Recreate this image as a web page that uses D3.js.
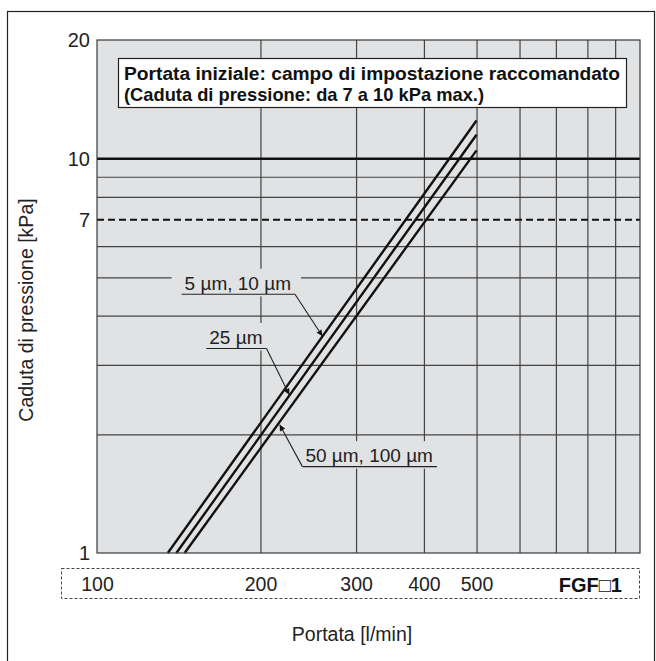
<!DOCTYPE html>
<html>
<head>
<meta charset="utf-8">
<script src="https://cdn.jsdelivr.net/npm/d3@7.9.0/dist/d3.min.js"></script>
<style>
  body { margin: 0; background: #fff; }
  svg { display: block; font-family: "Liberation Sans", Arial, Helvetica, sans-serif; }
</style>
</head>
<body>
<svg id="chart" width="656" height="661"></svg>
<script>
// values
const flowTicks = [100, 200, 300, 400, 500];
const dropTicks = [1, 7, 10, 20];
const flowGrid = [200, 300, 400, 500, 600, 700, 800, 900];
const dropGrid = [2, 3, 4, 5, 6, 8, 9];
const limitLow = 7;    // dashed line
const limitHigh = 10;  // heavy line

const seriesNames = ["5 µm, 10 µm", "25 µm", "50 µm, 100 µm"];
const flow5 = [135, 500];
const drop5 = [1, 12.5];
const flow25 = [140, 500];
const drop25 = [1, 11.5];
const flow50 = [145, 500];
const drop50 = [1, 10.5];

// label anchors and arrow tips, in data units
const labelFlow = [145, 161, 242];
const labelDrop = [4.65, 3.39, 1.70];
const tipFlow = [260, 226, 217];
const tipDrop = [3.55, 2.52, 2.115];
const leaderFrom = ["end", "end", "start"];

const titleLines = [
    "Portata iniziale: campo di impostazione raccomandato",
    "(Caduta di pressione: da 7 a 10 kPa max.)"
];

const svg = d3.select("#chart");
const margin = { top: 40, left: 97 };
const width = 543, height = 513;

const x = d3.scaleLog().domain([100, 1000]).range([margin.left, margin.left + width]);
const y = d3.scaleLog().domain([1, 20]).range([margin.top + height, margin.top]);

// outer frame
svg.append("rect")
    .attr("x", 7.5).attr("y", 11.5)
    .attr("width", 647).attr("height", 670)
    .attr("fill", "none").attr("stroke", "#222").attr("stroke-width", 1.2);

const defs = svg.append("defs");
defs.append("marker")
    .attr("id", "arrow")
    .attr("viewBox", "0 0 10 10")
    .attr("refX", 10).attr("refY", 5)
    .attr("markerUnits", "userSpaceOnUse")
    .attr("markerWidth", 10).attr("markerHeight", 6)
    .attr("orient", "auto")
    .append("path").attr("d", "M0,0L10,5L0,10z").attr("fill", "#111");

// plot background
svg.append("rect")
    .attr("x", x(100)).attr("y", y(20))
    .attr("width", width).attr("height", height)
    .attr("fill", "#e1e2e4");

const gridG = svg.append("g");
const maskG = svg.append("g");
const curveG = svg.append("g");
const labelG = svg.append("g");

// vertical grid
gridG.append("g")
    .attr("transform", `translate(0,${y(1)})`)
    .call(d3.axisBottom(x).tickValues(flowGrid).tickSize(-height).tickFormat(""))
    .call(g => g.select(".domain").remove())
    .selectAll("line").attr("stroke", "#444").attr("stroke-width", 1.2);

// horizontal grid
gridG.append("g")
    .attr("transform", `translate(${x(100)},0)`)
    .call(d3.axisLeft(y).tickValues(dropGrid).tickSize(-width).tickFormat(""))
    .call(g => g.select(".domain").remove())
    .selectAll("line").attr("stroke", "#444").attr("stroke-width", 1.2);

// 7 kPa dashed and 10 kPa heavy
gridG.append("line")
    .attr("x1", x(100)).attr("x2", x(1000))
    .attr("y1", y(limitLow)).attr("y2", y(limitLow))
    .attr("stroke", "#111").attr("stroke-width", 2).attr("stroke-dasharray", "7,4");
gridG.append("line")
    .attr("x1", x(100)).attr("x2", x(1000))
    .attr("y1", y(limitHigh)).attr("y2", y(limitHigh))
    .attr("stroke", "#111").attr("stroke-width", 2.6);

// plot border
svg.append("rect")
    .attr("x", x(100)).attr("y", y(20))
    .attr("width", width).attr("height", height)
    .attr("fill", "none").attr("stroke", "#3a3a3a").attr("stroke-width", 1.2);

// curves
const series = [
    { name: seriesNames[0], flow: flow5, drop: drop5 },
    { name: seriesNames[1], flow: flow25, drop: drop25 },
    { name: seriesNames[2], flow: flow50, drop: drop50 }
];
const line = d3.line().x(d => x(d[0])).y(d => y(d[1]));
curveG.selectAll("path")
    .data(series)
    .join("path")
    .attr("d", d => line(d3.zip(d.flow, d.drop)))
    .attr("fill", "none")
    .attr("stroke", "#111")
    .attr("stroke-width", 2.4);

// series labels with underline and leader arrow
series.forEach((s, i) => {
    const tx = x(labelFlow[i]), ty = y(labelDrop[i]);
    const t = labelG.append("text")
        .attr("x", tx).attr("y", ty)
        .attr("font-size", 19).attr("fill", "#222")
        .text(s.name);
    const bb = t.node().getBBox();
    const uy = ty + 4.5;
    const ux0 = tx - 3, ux1 = tx + bb.width + 4;
    maskG.append("rect")
        .attr("x", ux0 - 10).attr("y", bb.y - 4)
        .attr("width", ux1 - ux0 + 16).attr("height", uy + 2 - (bb.y - 4))
        .attr("fill", "#e1e2e4");
    const sx = leaderFrom[i] === "end" ? ux1 : ux0;
    labelG.append("path")
        .attr("d", `M${ux0},${uy}H${ux1}`)
        .attr("stroke", "#222").attr("stroke-width", 1.1).attr("fill", "none");
    labelG.append("line")
        .attr("x1", sx).attr("y1", uy)
        .attr("x2", x(tipFlow[i])).attr("y2", y(tipDrop[i]))
        .attr("stroke", "#222").attr("stroke-width", 1.1)
        .attr("marker-end", "url(#arrow)");
});

// title box
const boxX = 118, boxY = 58;
svg.append("rect")
    .attr("x", boxX + 0.5).attr("y", boxY + 0.5)
    .attr("width", 508).attr("height", 49)
    .attr("fill", "#fff").attr("stroke", "#222").attr("stroke-width", 1.2);
svg.append("text")
    .attr("x", boxX + 6).attr("y", boxY + 22)
    .attr("font-size", 18).attr("font-weight", "bold").attr("fill", "#111")
    .attr("textLength", 496).attr("lengthAdjust", "spacingAndGlyphs")
    .text(titleLines[0]);
svg.append("text")
    .attr("x", boxX + 6).attr("y", boxY + 43)
    .attr("font-size", 19).attr("font-weight", "bold").attr("fill", "#111")
    .attr("textLength", 360).attr("lengthAdjust", "spacingAndGlyphs")
    .text(titleLines[1]);

// y tick labels
svg.append("g")
    .attr("transform", `translate(${x(100)},0)`)
    .call(d3.axisLeft(y).tickValues(dropTicks).tickSize(0).tickPadding(7).tickFormat(d3.format("d")))
    .call(g => g.select(".domain").remove())
    .selectAll("text")
    .attr("font-size", 20).attr("font-family", "Liberation Sans, Arial, sans-serif").attr("fill", "#222");

// x tick box (dotted) and labels
svg.append("rect")
    .attr("x", 61.5).attr("y", 568.5)
    .attr("width", 578).attr("height", 30)
    .attr("fill", "none").attr("stroke", "#444").attr("stroke-width", 1)
    .attr("stroke-dasharray", "3,2");
svg.append("g")
    .attr("transform", "translate(0,574)")
    .call(d3.axisBottom(x).tickValues(flowTicks).tickSize(0).tickPadding(3).tickFormat(d3.format("d")))
    .call(g => g.select(".domain").remove())
    .selectAll("text")
    .attr("font-size", 19.5).attr("font-family", "Liberation Sans, Arial, sans-serif").attr("fill", "#222");
svg.append("text")
    .attr("x", 622).attr("y", 592)
    .attr("text-anchor", "end")
    .attr("font-size", 20).attr("font-weight", "bold").attr("fill", "#111")
    .text("FGF\u25A11");

// axis titles
svg.append("text")
    .attr("x", 352).attr("y", 641)
    .attr("text-anchor", "middle")
    .attr("font-size", 19.5).attr("fill", "#222")
    .text("Portata [l/min]");
svg.append("text")
    .attr("transform", "translate(33,310) rotate(-90)")
    .attr("text-anchor", "middle")
    .attr("font-size", 19.5).attr("fill", "#222")
    .text("Caduta di pressione [kPa]");
</script>
</body>
</html>
